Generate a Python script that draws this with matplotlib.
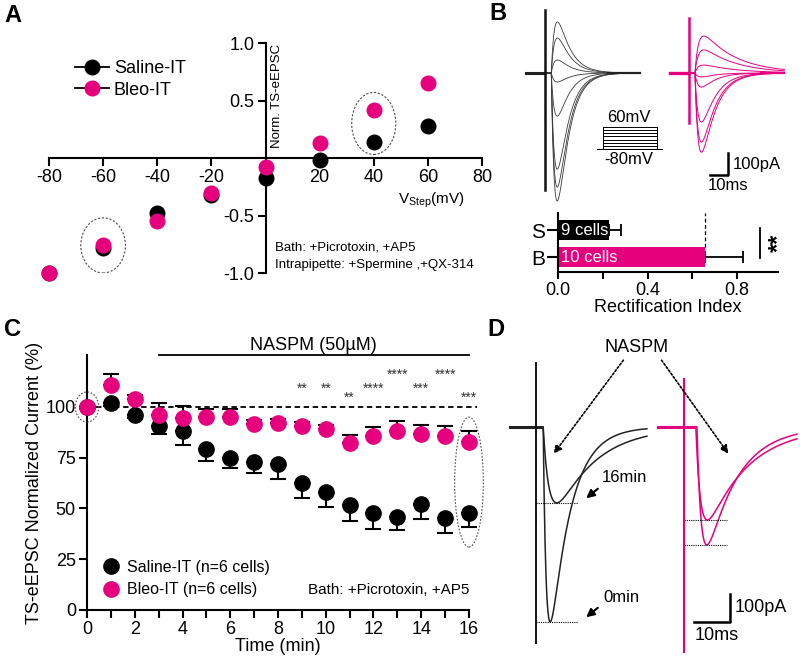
import numpy as np
import matplotlib
matplotlib.use("Agg")
import matplotlib.pyplot as plt
from matplotlib.patches import Ellipse, FancyArrowPatch
from matplotlib.lines import Line2D

plt.rcParams["font.family"] = ["Liberation Sans", "DejaVu Sans"]
plt.rcParams["axes.unicode_minus"] = False
plt.rcParams["axes.linewidth"] = 1.5
plt.rcParams["xtick.major.width"] = 1.5
plt.rcParams["ytick.major.width"] = 1.5
plt.rcParams["xtick.minor.width"] = 1.5

PINK = "#e6007e"
BLACK = "#000000"

# ---------------------------------------------------------------- data
# A: I-V relation (normalized TS-eEPSC)
A_VSTEP = [-80, -60, -40, -20, 0, 20, 40, 60]
A_SALINE = [-1.0, -0.78, -0.48, -0.32, -0.17, -0.02, 0.14, 0.28]
A_BLEO = [-1.0, -0.76, -0.55, -0.30, -0.08, 0.13, 0.42, 0.65]

# B: example traces (peak amplitude in pA per voltage step)
B_STEPS_MV = [-80, -60, -40, -20, 0, 20, 40, 60]
B_SAL_AMP = [-582, -519, -437, -196, -41, 59, 159, 232]
B_BLEO_AMP = [-360, -314, -223, -64, -18, 36, 105, 168]
B_SAL_KIN = dict(onset=3.5, tr=2.0, td_in=6.0, td_out=6.5)
B_BLEO_KIN = dict(onset=3.3, tr=2.0, td_in=7.5, td_out=18.0)

# B: rectification index
B_GROUPS = ["S", "B"]
B_RI = [0.23, 0.655]
B_RI_SEM = [0.05, 0.17]
B_NCELLS = ["9 cells", "10 cells"]

# C: NASPM time course
C_TIME = list(range(17))
C_SALINE = [100, 102, 96, 90.6, 88.3, 79.2, 75, 72.7, 71.9, 62.7, 58, 51.7,
            47.6, 46, 52, 45.2, 48]
C_SALINE_SEM = [0, 1.5, 1.5, 4, 7, 6, 5, 5, 7.4, 7.4, 7.4, 7.7, 7.6, 6.6,
                7.2, 7.4, 7]
C_BLEO = [100, 110.8, 103.7, 96, 94.4, 95.2, 94.9, 91.6, 92.3, 90.8, 89,
          82.4, 85.9, 88.3, 86.5, 85.7, 82.9]
C_BLEO_SEM = [0, 5.5, 2, 5.8, 6, 4, 4, 2, 2, 2, 2, 3.6, 4, 5, 4.6, 4.9, 5.3]
C_STAR_T = [9, 10, 11, 12, 13, 14, 15, 16]
C_STAR_TXT = ["**", "**", "**", "****", "****", "***", "****", "***"]
C_STAR_Y = [109, 109, 104.6, 109, 115.8, 109, 115.8, 104.6]
NASPM_ON, NASPM_OFF = 3, 16

# D: example traces before / after NASPM
D_LABELS = ["0min", "16min"]
D_SAL_AMP = [-696, -271]
D_SAL_ONSET = [2.0, 2.0]
D_SAL_TR = [0.9, 1.7]
D_SAL_TD = [5.5, 11.0]
D_BLEO_AMP = [-421, -332]
D_BLEO_ONSET = [3.6, 3.3]
D_BLEO_TR = [1.2, 1.3]
D_BLEO_TD = [8.5, 11.4]

# ---------------------------------------------------------------- helpers
W, H = 800, 657


def rect(l, t, w, h):
    return [l / W, 1 - (t + h) / H, w / W, h / H]


def fp(x, y):
    return (x / W, 1 - y / H)


def psc(t, amp, onset, tr, td):
    """Difference-of-exponentials current scaled so its peak equals amp."""
    s = np.clip(t - onset, 0, None)
    tpk = tr * td / (td - tr) * np.log(td / tr)
    gmax = np.exp(-tpk / td) - np.exp(-tpk / tr)
    g = np.exp(-s / td) - np.exp(-s / tr)
    return amp * g / gmax


fig = plt.figure(figsize=(8, 6.57), dpi=100)

for lab, (x, y) in zip("ABCD", [(4, 16), (489, 14), (4, 330), (487, 330)]):
    fig.text(*fp(x, y), lab, fontsize=17, fontweight="bold", va="center", ha="left")

# ---------------------------------------------------------------- panel A
axA = fig.add_axes(rect(49, 43, 433, 230))
axA.set_xlim(-80, 80)
axA.set_ylim(-1, 1)
axA.spines["left"].set_position(("data", 0))
axA.spines["bottom"].set_position(("data", 0))
axA.spines["top"].set_visible(False)
axA.spines["right"].set_visible(False)
axA.set_xticks([-80, -60, -40, -20, 20, 40, 60, 80])
axA.set_yticks([-1.0, -0.5, 0.5, 1.0])
axA.set_yticklabels(["-1.0", "-0.5", "0.5", "1.0"])
axA.tick_params(labelsize=13, length=6, pad=2)
axA.plot(A_VSTEP, A_SALINE, "o", color=BLACK, ms=10.5, clip_on=False, zorder=4)
axA.plot(A_VSTEP, A_BLEO, "o", color=PINK, ms=10.5, clip_on=False, zorder=5)
axA.add_patch(Ellipse((-60, -0.76), 16.5, 0.48, fill=False, ls=(0, (2, 1.5)),
                      lw=0.8, color="0.3"))
axA.add_patch(Ellipse((40, 0.30), 16.3, 0.54, fill=False, ls=(0, (2, 1.5)),
                      lw=0.8, color="0.3"))
fig.text(*fp(277, 96), "Norm. TS-eEPSC", rotation=90, fontsize=9.5,
         ha="center", va="center")
fig.text(*fp(398, 200), r"V$_{\mathregular{Step}}$(mV)", fontsize=11,
         ha="left", va="center")
fig.text(*fp(275, 248), "Bath: +Picrotoxin, +AP5", fontsize=9.5, va="center")
fig.text(*fp(275, 265), "Intrapipette: +Spermine ,+QX-314", fontsize=9.5,
         va="center")
hA = [Line2D([], [], color=BLACK, marker="o", ms=10.5, lw=1.3),
      Line2D([], [], color=BLACK, marker="o", ms=10.5, lw=1.3,
             markerfacecolor=PINK, markeredgecolor=PINK)]
fig.legend(hA, ["Saline-IT", "Bleo-IT"], loc="upper left",
           bbox_to_anchor=fp(75, 60), frameon=False, fontsize=13,
           handlelength=1.9, handletextpad=0.25, labelspacing=0.25,
           borderpad=0, borderaxespad=0)

# ---------------------------------------------------------------- panel B traces
ms_per_px = 1 / 1.8
pa_per_px = 100 / 22.0


def trace_axes(l, t, w, h, art_px, base_px):
    ax = fig.add_axes(rect(l, t, w, h))
    ax.set_xlim((l - art_px) * ms_per_px, (l + w - art_px) * ms_per_px)
    ax.set_ylim(-(t + h - base_px) * pa_per_px, -(t - base_px) * pa_per_px)
    ax.set_axis_off()
    return ax


axBs = trace_axes(520, 5, 130, 210, 545, 73)
tB = np.linspace(-10.5, 52.8, 800)
for amp in B_SAL_AMP:
    td = B_SAL_KIN["td_in"] if amp < 0 else B_SAL_KIN["td_out"]
    axBs.plot(tB, psc(tB, amp, B_SAL_KIN["onset"], B_SAL_KIN["tr"], td),
              color="#3a3a3a", lw=0.6)
axBs.plot([tB[0], 0], [0, 0], color="#222", lw=2.2)
axBs.plot([35, tB[-1]], [0, 0], color="#222", lw=1.6)
axBs.plot([0, 0], [287, -532], color="#111", lw=1.8)

axBb = trace_axes(665, 5, 135, 210, 689, 73)
tP = np.linspace(-10.5, 53, 800)
for amp in B_BLEO_AMP:
    td = B_BLEO_KIN["td_in"] if amp < 0 else B_BLEO_KIN["td_out"]
    axBb.plot(tP, psc(tP, amp, B_BLEO_KIN["onset"], B_BLEO_KIN["tr"], td),
              color=PINK, lw=0.7)
axBb.plot([tP[0], 0], [0, 0], color=PINK, lw=2.4)
axBb.plot([40, tP[-1]], [0, 0], color=PINK, lw=1.6)
axBb.plot([0, 0], [250, -227], color=PINK, lw=1.8)
# scale bar 10 ms / 100 pA
axBb.plot([11.7, 21.7, 21.7], [-464, -464, -364], color="k", lw=1.8)
fig.text(*fp(733, 164), "100pA", fontsize=12, va="center")
fig.text(*fp(708, 186), "10ms", fontsize=12, va="center")

# step protocol inset
axP = fig.add_axes(rect(597, 126, 66, 24))
axP.set_xlim(-0.12, 1.12)
axP.set_ylim(-84, 64)
axP.set_axis_off()
for v in B_STEPS_MV:
    axP.plot([0, 1], [v, v], color="k", lw=0.7)
axP.plot([0, 0], [B_STEPS_MV[0], B_STEPS_MV[-1]], color="k", lw=0.7)
axP.plot([1, 1], [B_STEPS_MV[0], B_STEPS_MV[-1]], color="k", lw=0.7)
axP.plot([-0.12, 1.12], [B_STEPS_MV[0], B_STEPS_MV[0]], color="k", lw=0.8)
fig.text(*fp(629, 117), "60mV", fontsize=12, ha="center", va="center")
fig.text(*fp(629, 160), "-80mV", fontsize=12, ha="center", va="center")

# ---------------------------------------------------------------- panel B bars
axR = fig.add_axes(rect(558, 213, 220, 59))
axR.set_xlim(0, 0.983)
axR.set_ylim(-0.555, 1.63)
yB = [1, 0]
axR.barh(yB, B_RI, height=0.74, color=[BLACK, PINK], zorder=2)
for y, v, e in zip(yB, B_RI, B_RI_SEM):
    axR.errorbar(v, y, xerr=[[0], [e]], fmt="none", ecolor="k", elinewidth=1.3,
                 capsize=4.5, capthick=1.3, zorder=1)
for y, txt in zip(yB, B_NCELLS):
    axR.text(0.015, y, txt, color="white", fontsize=12, va="center", ha="left")
axR.plot([B_RI[1], B_RI[1]], [0.37, 1.63], ls=(0, (3, 2)), color="k", lw=0.9)
axR.plot([0.903, 0.903], [-0.04, 1.08], color="k", lw=1.3, clip_on=False)
axR.text(0.985, 0.52, "**", rotation=90, fontsize=17, fontweight="bold",
         ha="center", va="center")
axR.spines["top"].set_visible(False)
axR.spines["right"].set_visible(False)
axR.set_yticks(yB)
axR.set_yticklabels(B_GROUPS)
axR.set_xticks([0.0, 0.4, 0.8])
axR.set_xticklabels(["0.0", "0.4", "0.8"])
axR.set_xticks([0.2, 0.6], minor=True)
axR.tick_params(axis="y", labelsize=15, length=8, pad=1)
axR.tick_params(axis="x", which="both", labelsize=13, length=5, pad=2)
axR.set_xlabel("Rectification Index", fontsize=13, labelpad=0)

# ---------------------------------------------------------------- panel C
axC = fig.add_axes(rect(87, 355, 382, 255))
axC.set_xlim(0, 16)
axC.set_ylim(0, 125.6)
axC.spines["top"].set_visible(False)
axC.spines["right"].set_visible(False)
axC.set_xticks(range(0, 17, 2))
axC.set_xticks(range(1, 17, 2), minor=True)
axC.set_yticks([0, 25, 50, 75, 100])
axC.tick_params(which="both", labelsize=13, length=6, pad=2)
axC.axhline(100, xmin=0, xmax=16.35 / 16, ls=(0, (3, 2)), color="k", lw=1.3,
            clip_on=False, zorder=1)
zeros = [0] * len(C_TIME)
axC.errorbar(C_TIME, C_SALINE, yerr=[C_SALINE_SEM, zeros], fmt="none",
             ecolor="k", elinewidth=1.5, capsize=6, capthick=1.5, zorder=2,
             clip_on=False)
axC.errorbar(C_TIME, C_BLEO, yerr=[zeros, C_BLEO_SEM], fmt="none",
             ecolor="k", elinewidth=1.5, capsize=6, capthick=1.5, zorder=2,
             clip_on=False)
axC.plot(C_TIME, C_SALINE, "o", color=BLACK, ms=11, clip_on=False, zorder=4)
axC.plot(C_TIME, C_BLEO, "o", color=PINK, ms=11, clip_on=False, zorder=5)
for t, s, y in zip(C_STAR_T, C_STAR_TXT, C_STAR_Y):
    axC.text(t, y, s, fontsize=10, color="#333", ha="center", va="center")
axC.plot([NASPM_ON, NASPM_OFF], [125.6, 125.6], color="k", lw=1.3,
         clip_on=False)
axC.text((NASPM_ON + NASPM_OFF) / 2, 130.5, "NASPM (50\u00b5M)", fontsize=13,
         ha="center", va="center")
axC.add_patch(Ellipse((0, 100), 0.98, 14.8, fill=False, ls=(0, (1.5, 1.5)),
                      lw=0.8, color="0.3", clip_on=False))
axC.add_patch(Ellipse((16, 63), 1.2, 64, fill=False, ls=(0, (1.5, 1.5)),
                      lw=0.8, color="0.3", clip_on=False))
axC.set_ylabel("TS-eEPSC Normalized Current (%)", fontsize=13, labelpad=2)
axC.set_xlabel("Time (min)", fontsize=13, labelpad=0)
axC.text(16, 10, "Bath: +Picrotoxin, +AP5", fontsize=11, ha="right",
         va="center")
hC = [Line2D([], [], ls="none", marker="o", ms=11, color=BLACK),
      Line2D([], [], ls="none", marker="o", ms=11, color=PINK)]
fig.legend(hC, ["Saline-IT (n=6 cells)", "Bleo-IT (n=6 cells)"],
           loc="upper left", bbox_to_anchor=fp(103, 560), frameon=False,
           fontsize=11.5, handlelength=1.0, handletextpad=0.5,
           labelspacing=0.45, borderpad=0, borderaxespad=0)

# ---------------------------------------------------------------- panel D
ms_per_px = 1 / 3.6
pa_per_px = 100 / 28.0
axDs = trace_axes(500, 340, 150, 317, 536, 427)
tD = np.linspace(-7.2, 30.8, 800)
for amp, on, tr, td in zip(D_SAL_AMP, D_SAL_ONSET, D_SAL_TR, D_SAL_TD):
    y = psc(tD, amp, on, tr, td)
    axDs.plot(tD, y, color="#222", lw=1.1)
    axDs.plot([0, 11.7], [y.min(), y.min()], ls=(0, (1, 1)), color="k", lw=0.8)
axDs.plot([tD[0], 1.5], [0, 0], color="#222", lw=2.2)
axDs.plot([0, 0], [230, -771], color="#111", lw=1.4)

axDb = trace_axes(650, 340, 150, 317, 684, 427)
tE = np.linspace(-7.2, 31.4, 800)
for amp, on, tr, td in zip(D_BLEO_AMP, D_BLEO_ONSET, D_BLEO_TR, D_BLEO_TD):
    y = psc(tE, amp, on, tr, td)
    axDb.plot(tE, y, color=PINK, lw=1.1)
    axDb.plot([0, 12], [y.min(), y.min()], ls=(0, (1, 1)), color="k", lw=0.8)
axDb.plot([tE[0], 3.0], [0, 0], color=PINK, lw=2.2)
axDb.plot([0, 0], [170, -803], color=PINK, lw=1.5)
axDb.plot([2.8, 12.8, 12.8], [-696, -696, -596], color="k", lw=1.8)
fig.text(*fp(735, 608), "100pA", fontsize=13, va="center")
fig.text(*fp(695, 635), "10ms", fontsize=13, va="center")

fig.text(*fp(637, 347), "NASPM", fontsize=13, ha="center", va="center")
for head, tail in [((552, 456), (625, 358)), ((730, 456), (660, 358))]:
    fig.add_artist(FancyArrowPatch(
        fp(*tail), fp(*head), transform=fig.transFigure, arrowstyle="-|>",
        mutation_scale=12, ls=(0, (1.2, 1.2)), lw=1.2, color="k"))
for (tx, ty), head, tail, lab in zip([(602, 477), (603, 598)],
                                     [(584, 500), (584, 619)],
                                     [(600, 487), (600, 606)],
                                     D_LABELS[::-1]):
    fig.text(*fp(tx, ty), lab, fontsize=12, va="center")
    fig.add_artist(FancyArrowPatch(
        fp(*tail), fp(*head), transform=fig.transFigure, arrowstyle="-|>",
        mutation_scale=12, lw=1.5, color="k"))

fig.savefig("out.png", dpi=100)
